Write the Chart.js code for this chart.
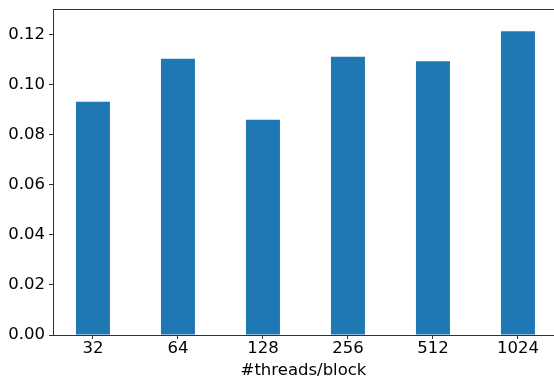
<!DOCTYPE html>
<html>
<head>
<meta charset="utf-8">
<script src="https://cdn.jsdelivr.net/npm/chart.js@4/dist/chart.umd.min.js"></script>
<style>
  html,body{margin:0;padding:0;background:#fff;overflow:hidden;}
  canvas{display:block;}
</style>
</head>
<body>
<canvas id="c" width="554" height="379"></canvas>
<script>
// threads per block vs. measured value
const LABELS = ['32','64','128','256','512','1024'];
const VALUES = [0.0932, 0.1103, 0.0860, 0.1111, 0.1093, 0.1213];
const Y_TICKS = [0, 0.02, 0.04, 0.06, 0.08, 0.10, 0.12];

const BLUE = '#1f77b4', SPINE = '#333', FONT = "'DejaVu Sans', sans-serif";

// top spine (the right one is cut off by the figure edge)
const frame = {
  id:'frame',
  afterDraw(ch){
    const a = ch.chartArea, c = ch.ctx;
    c.save(); c.strokeStyle = SPINE; c.lineWidth = 1;
    c.beginPath(); c.moveTo(a.left, a.top + 0.5); c.lineTo(a.right, a.top + 0.5); c.stroke();
    c.restore();
  }
};

new Chart(document.getElementById('c'), {
  type:'bar',
  data:{datasets:[{
    data: VALUES.map((v,i) => ({x:i, y:v})),
    backgroundColor: BLUE,
    barPercentage: 0.4,
    categoryPercentage: 1
  }]},
  options:{
    responsive:false, animation:false,
    layout:{padding:{top:9, left:0, right:0, bottom:0}},
    plugins:{legend:{display:false}, tooltip:{enabled:false}},
    scales:{
      x:{
        type:'linear', min:-0.47, max:5.424, offset:false,
        afterBuildTicks: s => { s.ticks = LABELS.map((_,i) => ({value:i})); },
        afterFit: s => { s.height = 44; s.paddingLeft = 0; s.paddingRight = 0; },
        grid:{drawOnChartArea:false, offset:false, tickLength:4, tickColor:SPINE},
        border:{color:SPINE},
        ticks:{color:'#000', padding:0, maxRotation:0, font:{family:FONT, size:16.5}, callback: v => LABELS[v]},
        title:{display:true, text:'#threads/block', color:'#000', padding:{top:0, bottom:-2}, font:{family:FONT, size:16.5}}
      },
      y:{
        min:0, max:0.1302,
        afterBuildTicks: s => { s.ticks = Y_TICKS.map(v => ({value:v})); },
        afterFit: s => { s.width = 53; s.paddingTop = 0; s.paddingBottom = 0; },
        grid:{drawOnChartArea:false, tickLength:4, tickColor:SPINE},
        border:{color:SPINE},
        ticks:{color:'#000', padding:4, font:{family:FONT, size:16.5}, callback: v => v.toFixed(2)}
      }
    }
  },
  plugins:[frame]
});
</script>
</body>
</html>
